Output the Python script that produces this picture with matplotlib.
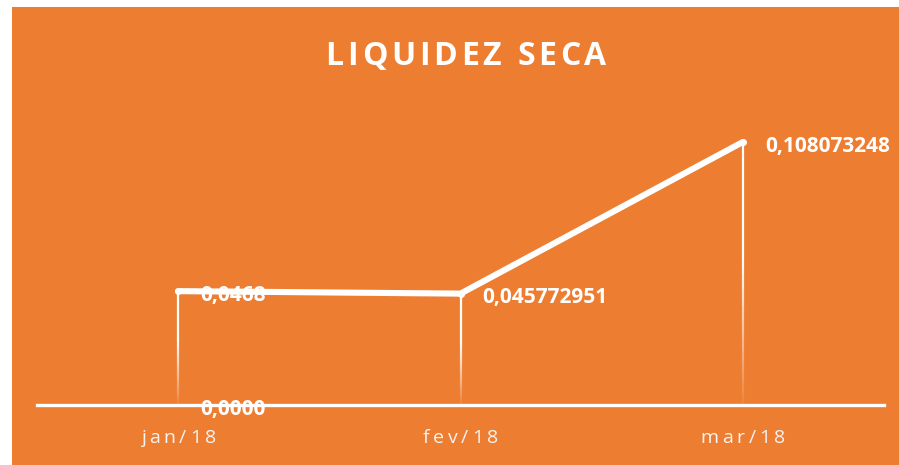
import matplotlib
matplotlib.use("Agg")
import matplotlib.pyplot as plt
from matplotlib.patches import Rectangle
from matplotlib.font_manager import FontProperties, findfont, get_font
import numpy as np

categories = ["jan/18", "fev/18", "mar/18"]
values = [0.0468, 0.045772951, 0.108073248]
labels = ["0,0468", "0,045772951", "0,108073248"]
zero_label = "0,0000"
title = "LIQUIDEZ SECA"

ORANGE = "#ED7D31"
W, H = 899, 465
DPI = 100
fig = plt.figure(figsize=(W / DPI, H / DPI), dpi=DPI)
fig.patch.set_facecolor("white")
fig.patches.append(Rectangle((12 / W, 0), 1 - 12 / W, 1 - 7 / H, transform=fig.transFigure,
                             facecolor=ORANGE, edgecolor="none", zorder=-5))


def spaced_text(x_px, y_px, s, spacing_px, size, weight="normal", color="white", family="Open Sans"):
    """Draw s centred at x_px (figure pixels from left), baseline at y_px (pixels from top)."""
    fp = FontProperties(family=family, weight=weight, size=size)
    font = get_font(findfont(fp))
    font.set_size(size, DPI)
    adv = [font.load_char(ord(c)).linearHoriAdvance / 65536.0 for c in s]
    total = sum(adv) + spacing_px * (len(s) - 1)
    x = x_px - total / 2
    for c, a in zip(s, adv):
        if c != " ":
            fig.text(x / W, 1 - y_px / H, c, ha="left", va="baseline", color=color,
                     fontproperties=fp)
        x += a + spacing_px


ax = fig.add_axes([37 / W, (H - 405) / H, 847 / W, 292 / H])
ax.set_facecolor("none")
ax.set_xlim(-0.5, 2.5)
ax.set_ylim(0, 0.12)
for s in ["left", "right", "top"]:
    ax.spines[s].set_visible(False)
ax.spines["bottom"].set_color("white")
ax.spines["bottom"].set_linewidth(2.4)
ax.set_yticks([])
x = np.arange(len(categories))
ax.set_xticks(x)
ax.set_xticklabels([""] * len(categories))
ax.tick_params(axis="x", length=0)

# drop lines with fade toward bottom
nseg = 40
for xi, v in zip(x, values):
    edges = np.linspace(0, v, nseg + 1)
    for k in range(nseg):
        frac = (k + 0.5) / nseg
        a = min(1.0, 0.05 + 1.7 * frac)
        ax.plot([xi, xi], [edges[k], edges[k + 1]], color="white", lw=1.6, alpha=a,
                solid_capstyle="butt", zorder=2)

ax.plot(x, values, color="white", lw=4.4, solid_capstyle="round", zorder=3)
ax.plot(x, values, "o", color="white", ms=4, zorder=4)

for xi, v, lab in zip(x, values, labels):
    ax.annotate(lab, (xi, v), xytext=(22, -9.5), textcoords="offset pixels", ha="left", va="baseline",
                color="white", fontsize=15, fontweight="bold", family="Open Sans", zorder=5)
ax.annotate(zero_label, (0, 0), xytext=(22, -9.5), textcoords="offset pixels", ha="left", va="baseline",
            color="white", fontsize=15, fontweight="bold", family="Open Sans", zorder=5)

# category labels (letter-spaced) placed through the data transform
fig.canvas.draw()
for xi, cat in zip(x, categories):
    px = ax.transData.transform((xi, 0))[0]
    spaced_text(px, 443, cat, 3.6, 14, weight="normal", color="#F4F4F4")

spaced_text(466, 65, title, 3.8, 23, weight="bold")

fig.savefig("out.png", dpi=DPI, facecolor=fig.get_facecolor())
